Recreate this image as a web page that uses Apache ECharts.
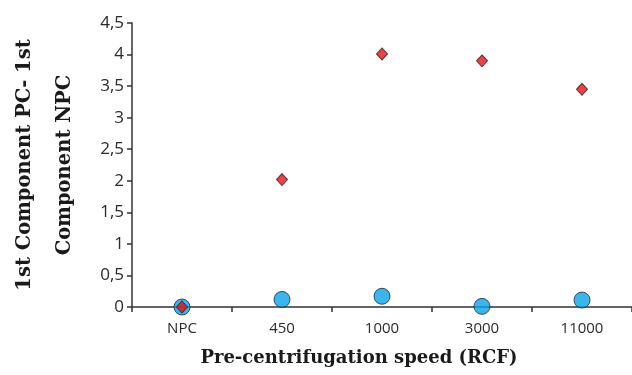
<!DOCTYPE html>
<html><head><meta charset="utf-8">
<script src="https://cdn.jsdelivr.net/npm/echarts@6/dist/echarts.min.js"></script>
<style>html,body{margin:0;padding:0;background:#fff}#c{width:632px;height:375px}</style>
</head><body><div id="c"></div>
<script>
const categories = ['NPC', '450', '1000', '3000', '11000'];
const npcValues = [0, 0.12, 0.17, 0.01, 0.11];
const pcValues = [0, 2.02, 4.01, 3.9, 3.45];
const yTicks = ['0','0,5','1','1,5','2','2,5','3','3,5','4','4,5'];

const chart = echarts.init(document.getElementById('c'));
chart.setOption({
  animation: false,
  grid: {left: 132, right: 0, top: 23, bottom: 68, containLabel: false, outerBoundsMode: 'none'},
  xAxis: {
    type: 'category', data: categories, boundaryGap: true,
    name: 'Pre-centrifugation speed (RCF)', nameLocation: 'middle', nameGap: 42,
    nameTextStyle: {fontFamily: 'DejaVu Serif', fontWeight: 'bold', fontSize: 18, color: '#1a1a1a', padding: [0, 46, 0, 0]},
    axisLine: {lineStyle: {color: '#333', width: 1.5}},
    axisTick: {show: true, alignWithLabel: false, length: 5, lineStyle: {color: '#333', width: 1.5}},
    axisLabel: {fontFamily: 'Open Sans', fontSize: 15, color: '#2a2a2a', margin: 14}
  },
  yAxis: {
    type: 'value', min: 0, max: 4.5, interval: 0.5,
    name: '1st Component PC- 1st\nComponent NPC', nameLocation: 'middle', nameGap: 47,
    nameTextStyle: {fontFamily: 'DejaVu Serif', fontWeight: 'bold', fontSize: 19.5, color: '#1a1a1a', lineHeight: 40},
    axisLine: {show: true, lineStyle: {color: '#333', width: 1.5}},
    axisTick: {show: true, length: 5, lineStyle: {color: '#333', width: 1.5}},
    splitLine: {show: false},
    axisLabel: {fontFamily: 'Open Sans', fontSize: 17, color: '#2a2a2a', margin: 8,
      formatter: function (v) { return yTicks[Math.round(v * 2)]; }}
  },
  series: [
    {type: 'scatter', data: npcValues, symbol: 'circle', symbolSize: 16,
     itemStyle: {color: '#0aa3e6', borderColor: '#1a2a3a', borderWidth: 1}, z: 2},
    {type: 'scatter', data: pcValues, symbol: 'diamond', symbolSize: [11, 12],
     itemStyle: {color: '#e3141c', borderColor: '#3a1a1a', borderWidth: 1}, z: 3}
  ]
});
</script></body></html>
